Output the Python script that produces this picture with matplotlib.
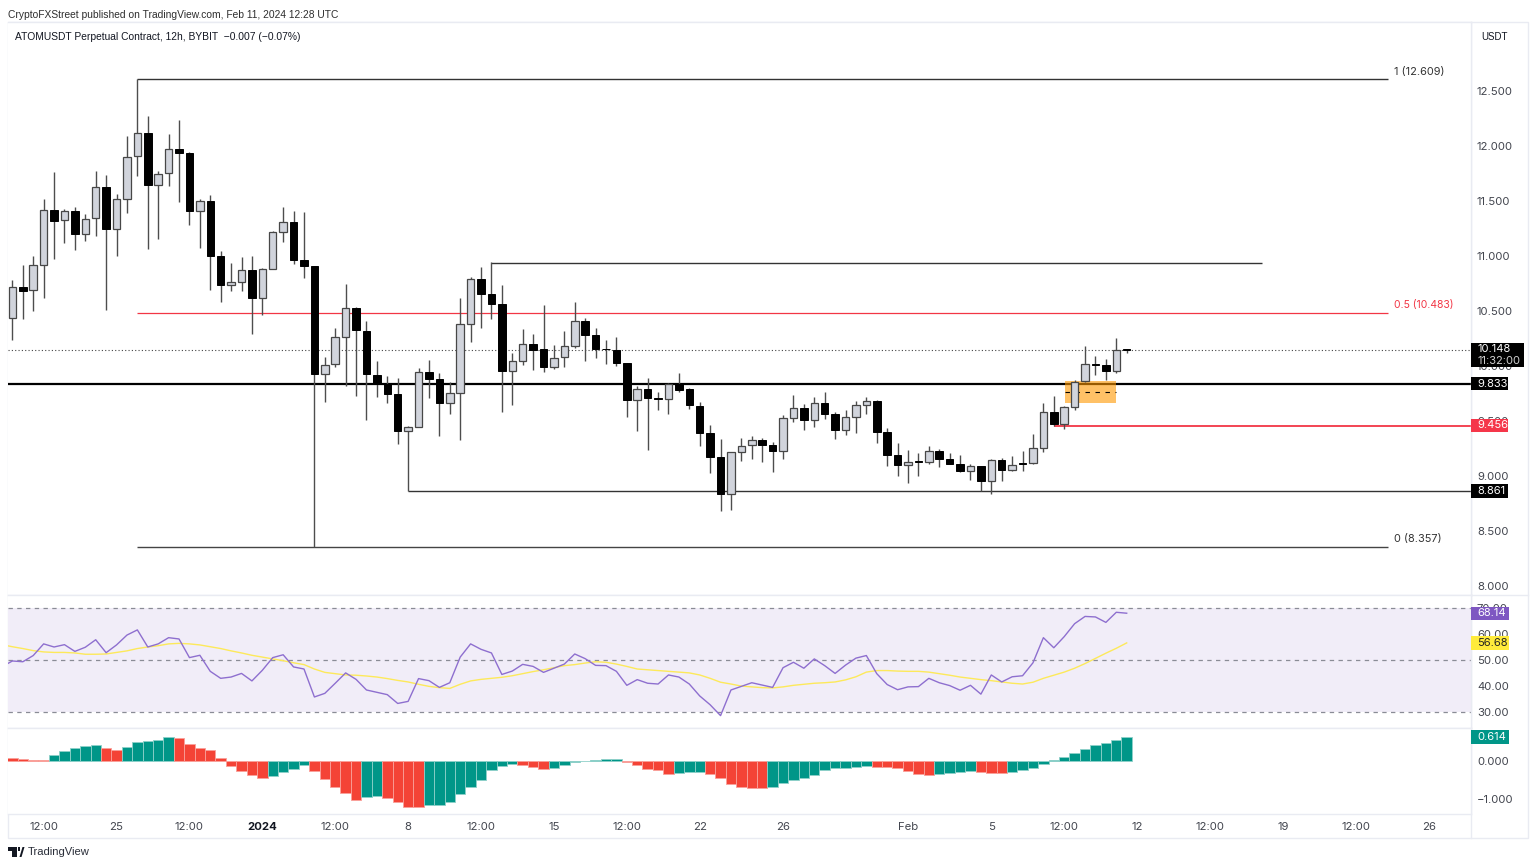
import numpy as np
import matplotlib
matplotlib.use('Agg')
import matplotlib.pyplot as plt
from matplotlib.patches import Rectangle, Polygon

plt.rcParams['font.family'] = ['Inter', 'DejaVu Sans']

W, H = 1536, 866

# 12h candles, left to right
opens = [10.435, 10.717, 10.687, 10.920, 11.420, 11.323, 11.411, 11.202, 11.341, 11.626,
         11.241, 11.517, 11.905, 12.114, 11.645, 11.751, 11.972, 11.938, 11.411, 11.499,
         10.996, 10.732, 10.763, 10.869, 10.617, 10.881, 11.220, 11.311, 10.966, 10.905,
         9.923, 10.017, 10.265, 10.529, 10.320, 9.920, 9.835, 9.744, 9.408, 9.447,
         9.944, 9.880, 9.662, 9.756, 10.383, 10.792, 10.653, 10.565, 9.959, 10.044,
         10.198, 10.150, 9.992, 10.080, 10.180, 10.408, 10.283, 10.159, 10.150, 10.026,
         9.695, 9.792, 9.711, 9.698, 9.833, 9.788, 9.639, 9.388, 9.173, 8.833,
         9.218, 9.279, 9.330, 9.279, 9.224, 9.530, 9.615, 9.509, 9.663, 9.560,
         9.418, 9.539, 9.648, 9.685, 9.403, 9.191, 9.100, 9.136, 9.130, 9.227,
         9.157, 9.112, 9.042, 9.088, 8.957, 9.148, 9.054, 9.115, 9.115, 9.257,
         9.585, 9.470, 9.627, 9.860, 10.015, 10.006, 9.957, 10.155]
highs = [10.778, 10.914, 11.002, 11.517, 11.760, 11.426, 11.441, 11.381, 11.775, 11.735,
         11.560, 12.090, 12.609, 12.275, 11.772, 12.108, 12.232, 11.948, 11.520, 11.554,
         11.045, 10.938, 10.990, 10.999, 10.887, 11.226, 11.441, 11.411, 11.399, 10.911,
         10.080, 10.347, 10.747, 10.535, 10.405, 10.047, 9.911, 9.895, 9.456, 9.983,
         10.059, 9.938, 9.856, 10.620, 10.808, 10.898, 10.941, 10.738, 10.114, 10.335,
         10.292, 10.556, 10.192, 10.320, 10.586, 10.435, 10.347, 10.238, 10.262, 10.030,
         9.814, 9.892, 9.762, 9.850, 9.936, 9.803, 9.676, 9.463, 9.333, 9.220,
         9.342, 9.360, 9.348, 9.306, 9.554, 9.739, 9.651, 9.718, 9.763, 9.579,
         9.597, 9.682, 9.718, 9.691, 9.433, 9.297, 9.236, 9.212, 9.276, 9.245,
         9.209, 9.188, 9.106, 9.094, 9.154, 9.166, 9.182, 9.227, 9.385, 9.660,
         9.730, 9.639, 9.876, 10.185, 10.088, 10.060, 10.251, 10.155]
lows = [10.238, 10.429, 10.499, 10.620, 10.975, 11.117, 11.057, 11.135, 11.181, 10.511,
        11.002, 11.387, 11.729, 11.066, 11.157, 11.635, 11.493, 11.284, 11.075, 10.693,
        10.581, 10.681, 10.684, 10.293, 10.466, 10.878, 11.123, 10.929, 10.802, 8.357,
        9.671, 9.989, 9.817, 9.726, 9.505, 9.714, 9.668, 9.292, 8.861, 9.444,
        9.705, 9.365, 9.562, 9.323, 10.214, 10.347, 10.429, 9.586, 9.650, 10.005,
        9.965, 9.950, 9.971, 9.989, 10.162, 10.050, 10.074, 10.020, 10.002, 9.535,
        9.408, 9.232, 9.602, 9.562, 9.766, 9.609, 9.276, 9.027, 8.679, 8.694,
        9.136, 9.157, 9.130, 9.036, 9.154, 9.494, 9.421, 9.448, 9.518, 9.333,
        9.376, 9.388, 9.563, 9.300, 9.091, 9.003, 8.939, 9.003, 9.106, 9.082,
        9.108, 9.040, 8.966, 8.861, 8.833, 8.957, 9.045, 9.045, 9.112, 9.218,
        9.456, 9.430, 9.600, 9.857, 9.921, 9.873, 9.939, 10.118]
closes = [10.717, 10.684, 10.917, 11.420, 11.320, 11.408, 11.202, 11.338, 11.626, 11.241,
          11.517, 11.899, 12.114, 11.645, 11.748, 11.972, 11.938, 11.411, 11.499, 10.996,
          10.732, 10.763, 10.869, 10.617, 10.881, 11.217, 11.311, 10.966, 10.911, 9.923,
          10.011, 10.262, 10.529, 10.323, 9.923, 9.835, 9.744, 9.408, 9.444, 9.941,
          9.880, 9.662, 9.756, 10.380, 10.792, 10.653, 10.565, 9.959, 10.044, 10.198,
          10.150, 9.992, 10.074, 10.180, 10.408, 10.283, 10.156, 10.153, 10.026, 9.695,
          9.792, 9.711, 9.702, 9.838, 9.782, 9.642, 9.388, 9.173, 8.833, 9.215,
          9.276, 9.330, 9.279, 9.224, 9.527, 9.615, 9.509, 9.660, 9.560, 9.418,
          9.533, 9.648, 9.685, 9.403, 9.191, 9.100, 9.130, 9.130, 9.227, 9.157,
          9.112, 9.042, 9.088, 8.957, 9.148, 9.054, 9.103, 9.106, 9.257, 9.585,
          9.470, 9.624, 9.857, 10.015, 10.009, 9.957, 10.142, 10.148]

# RSI and its average, first value sits one bar left of the first candle
rsi = [47.5, 49.7, 49.4, 51.8, 56.3, 55.1, 56.0, 53.4, 55.0, 57.9, 52.9,
       55.9, 59.7, 61.7, 55.1, 56.3, 58.7, 58.2, 51.0, 51.9, 45.7,
       43.0, 43.5, 44.9, 42.0, 46.1, 51.0, 52.1, 47.4, 46.6, 35.8,
       37.2, 41.1, 45.1, 42.6, 38.5, 37.6, 36.7, 33.3, 34.1, 42.9,
       42.1, 39.5, 41.3, 51.2, 56.3, 54.2, 52.8, 44.5, 45.8, 48.4,
       47.6, 45.3, 46.9, 48.5, 52.4, 50.6, 48.0, 47.9, 45.7, 40.3,
       42.5, 41.1, 40.8, 44.3, 43.5, 40.8, 36.2, 32.8, 28.6, 38.5,
       39.9, 41.3, 40.4, 39.5, 47.1, 49.2, 46.9, 50.5, 47.9, 44.9,
       48.1, 50.8, 51.8, 44.8, 40.6, 38.6, 39.7, 39.8, 43.0, 41.3,
       40.2, 38.4, 40.3, 36.9, 44.3, 41.6, 43.6, 44.0, 49.0, 58.7,
       54.8, 59.1, 64.1, 66.9, 66.7, 64.6, 68.5, 68.14]
rsi_ma = [56.0, 55.2, 54.5, 53.7, 53.2, 53.0, 53.0, 52.8, 52.3, 52.3, 52.4,
          53.0, 53.6, 54.5, 55.1, 55.6, 56.3, 56.5, 56.3, 55.9, 55.2,
          54.5, 53.6, 52.8, 51.9, 51.2, 50.5, 49.8, 49.0, 48.3, 46.6,
          45.3, 44.8, 44.3, 44.2, 43.9, 43.5, 42.9, 42.2, 41.6, 40.7,
          39.9, 39.4, 39.1, 40.7, 42.0, 42.6, 43.0, 43.4, 44.0, 44.8,
          45.6, 46.3, 47.1, 47.9, 48.3, 48.9, 49.4, 49.2, 48.5, 47.6,
          46.6, 46.3, 46.0, 45.7, 45.4, 45.1, 44.3, 43.0, 41.5, 40.8,
          40.0, 39.7, 39.4, 39.3, 39.7, 40.3, 40.7, 41.1, 41.3, 41.6,
          42.4, 43.6, 45.4, 46.0, 46.0, 45.8, 45.7, 45.7, 45.4, 44.8,
          44.2, 43.5, 43.0, 42.5, 42.1, 41.6, 41.1, 40.8, 41.5, 43.0,
          44.2, 45.4, 46.9, 48.7, 50.7, 52.7, 54.6, 56.68]

macd_hist = [0.087, 0.052, 0.035, 0.035, 0.148, 0.261, 0.330, 0.391, 0.426, 0.339,
             0.296, 0.365, 0.504, 0.522, 0.557, 0.626, 0.600, 0.435, 0.330, 0.278,
             0.087, -0.122, -0.261, -0.365, -0.435, -0.391, -0.296, -0.209, -0.104, -0.261,
             -0.470, -0.678, -0.835, -1.026, -0.948, -0.913, -0.965, -1.061, -1.191, -1.191,
             -1.157, -1.139, -1.070, -0.861, -0.678, -0.496, -0.243, -0.122, -0.078, -0.104,
             -0.148, -0.200, -0.183, -0.096, -0.035, -0.010, 0.017, 0.043, 0.052, -0.035,
             -0.113, -0.200, -0.243, -0.339, -0.322, -0.287, -0.278, -0.339, -0.443, -0.609,
             -0.678, -0.713, -0.713, -0.670, -0.583, -0.504, -0.435, -0.365, -0.235, -0.183,
             -0.174, -0.165, -0.139, -0.148, -0.157, -0.183, -0.252, -0.330, -0.365, -0.348,
             -0.313, -0.278, -0.252, -0.278, -0.304, -0.304, -0.287, -0.243, -0.183, -0.078,
             0.020, 0.096, 0.209, 0.322, 0.417, 0.478, 0.557, 0.614]
macd_red = [0, 1, 2, 3, 9, 10, 16, 17, 18, 19, 20, 21, 22, 23, 24, 29, 30, 31, 32, 33,
            36, 37, 38, 39, 49, 50, 51, 59, 60, 61, 62, 63, 67, 68, 69, 70, 71, 72,
            83, 84, 85, 86, 87, 88, 93, 94, 95]

time_pos = [3, 10, 17, 24, 31, 38, 45, 52, 59, 66, 74, 86, 94, 101, 108, 115, 122, 129, 136]
time_labels = ['12:00', '25', '12:00', '2024', '12:00', '8', '12:00', '15', '12:00', '22',
               '26', 'Feb', '5', '12:00', '12', '12:00', '19', '12:00', '26']

price_ticks = [8.0, 8.5, 9.0, 9.5, 10.0, 10.5, 11.0, 11.5, 12.0, 12.5]
rsi_ticks = [30, 40, 50, 60, 70]
macd_ticks = [-1, 0]

fib_high, fib_mid, fib_low = 12.609, 10.483, 8.357
swing_high, swing_low = 10.94, 8.861
level_black, level_red, last_price = 9.833, 9.456, 10.148
ob_top, ob_bottom = 9.861, 9.661

BLACK = '#000000'
GREY_TXT = '#43464f'
RED = '#F23645'
BORDER = '#e9ebf2'
HEAD_FONT = ['Liberation Sans', 'DejaVu Sans']

X0, DX = 12.4, 10.414
XMIN, XMAX = (8 - X0) / DX, (1470.5 - X0) / DX


def fx(px):
    return px / W


def fy(py):
    return 1 - py / H


def make_axes(top, bottom):
    ax = fig.add_axes([fx(8), fy(bottom), fx(1470.5) - fx(8), (bottom - top) / H])
    ax.set_xlim(XMIN, XMAX)
    ax.yaxis.tick_right()
    ax.tick_params(axis='y', length=0, pad=4.6, labelsize=8.2, labelcolor=GREY_TXT)
    ax.set_xticks([])
    for s in ax.spines.values():
        s.set_color(BORDER)
        s.set_linewidth(1)
    ax.spines['left'].set_visible(False)
    return ax


def tag(top, bottom, right, color, text, txt_color='white', y_txt=None):
    fig.add_artist(Rectangle((fx(1470.5), fy(bottom)), (right - 1470.5) / W, (bottom - top) / H,
                             transform=fig.transFigure, facecolor=color, edgecolor='none', zorder=10))
    y_txt = (top + bottom) / 2 if y_txt is None else y_txt
    fig.text(fx(1477), fy(y_txt), text, color=txt_color, fontsize=8.0, va='center', ha='left', zorder=11)


fig = plt.figure(figsize=(W / 100, H / 100), dpi=100, facecolor='white')

# outer frame
fig.add_artist(Rectangle((fx(8), fy(838)), (1528 - 8) / W, (838 - 22) / H, transform=fig.transFigure,
                         facecolor='none', edgecolor=BORDER, lw=1, zorder=-1))
fig.add_artist(plt.Line2D([fx(1470.5), fx(1470.5)], [fy(22), fy(838)], color=BORDER, lw=1, zorder=-1))
fig.add_artist(plt.Line2D([fx(1470.5), fx(1528)], [fy(595), fy(595)], color=BORDER, lw=1, zorder=-1))

# --- price pane
ax = make_axes(22, 595)
ax.set_ylim(12.5 - (595 - 91) / 110, 12.5 + (91 - 22) / 110)
ax.set_yticks(price_ticks)
ax.set_yticklabels(['%.3f' % p for p in price_ticks])

x = np.arange(len(opens))
o = np.array(opens)
c = np.array(closes)
up = c >= o

ax.hlines(last_price, XMIN, XMAX, color='#444444', lw=0.8, linestyles=(0, (1, 2)), zorder=1)
ax.hlines(level_black, XMIN, XMAX, color=BLACK, lw=1.6, zorder=2)
ax.add_patch(Rectangle((101.07, ob_bottom), 4.9, ob_top - ob_bottom, facecolor='#FF9800', alpha=0.6,
                       edgecolor='none', zorder=2.2))
ax.hlines((ob_top + ob_bottom) / 2, 101.07, 105.97, color=BLACK, lw=0.8, linestyles=(0, (4, 5)), zorder=2.3)

ax.vlines(x, lows, highs, color='#4d4d4d', lw=1, zorder=3)
ax.bar(x[up], (c - o)[up], bottom=o[up], width=0.72, facecolor='#D1D4DC', edgecolor='#474747', lw=0.9, zorder=4)
ax.bar(x[~up], (o - c)[~up], bottom=c[~up], width=0.72, facecolor=BLACK, edgecolor=BLACK, lw=0.7, zorder=4)

# fib and swing lines
ax.hlines(fib_high, 12, 132.1, color='#333333', lw=1, zorder=2)
ax.hlines(fib_mid, 12, 132.1, color=RED, lw=0.9, zorder=2)
ax.hlines(fib_low, 12, 132.1, color='#444444', lw=1, zorder=2)
ax.hlines(swing_high, 46, 120, color='#333333', lw=1, zorder=2)
ax.hlines(swing_low, 38, XMAX, color='#333333', lw=1, zorder=2)
ax.hlines(level_red, 100, XMAX, color=RED, lw=1.3, zorder=2)

ax.text(132.7, fib_high + 0.06, '1 (12.609)', fontsize=7.9, color='#333333', va='center')
ax.text(132.7, fib_mid + 0.07, '0.5 (10.483)', fontsize=7.5, color=RED, va='center')
ax.text(132.7, fib_low + 0.07, '0 (8.357)', fontsize=7.9, color='#333333', va='center')

# --- RSI pane
ax2 = make_axes(595, 727.7)
ax2.set_ylim(30 - (727.7 - 712) / 2.59, 30 + (712 - 595) / 2.59)
ax2.set_yticks(rsi_ticks)
ax2.set_yticklabels(['%.2f' % v for v in rsi_ticks])
ax2.axhspan(30, 70, facecolor='#7E57C2', alpha=0.1, edgecolor='none', zorder=0)
for lev in (30, 50, 70):
    ax2.axhline(lev, color='#8a8c96', lw=0.9, linestyle=(0, (3.5, 3.5)), zorder=1)
x_osc = np.arange(-1, len(opens))
ax2.plot(x_osc, rsi_ma, color='#FDE95A', lw=1, zorder=2)
ax2.plot(x_osc, rsi, color='#8E6FCF', lw=1, zorder=3)

# --- MACD pane
ax3 = make_axes(727.7, 814.3)
ax3.set_ylim(-(814.3 - 761) / 38.3, (761 - 727.7) / 38.3)
ax3.set_yticks(macd_ticks)
ax3.set_yticklabels(['\u22121.000', '0.000'])
colors = ['#F44336' if i in macd_red else '#009688' for i in x]
edges = ['#f9a09a' if i in macd_red else '#8fd0c9' for i in x]
ax3.bar(x, macd_hist, width=1.0, color=colors, edgecolor=edges, lw=0.6)
ax3.set_xticks(time_pos)
ax3.set_xticklabels(time_labels)
ax3.tick_params(axis='x', length=0, pad=5.5, labelsize=8.2, labelcolor=GREY_TXT)
ax3.get_xticklabels()[3].set_fontweight('bold')
ax3.get_xticklabels()[3].set_color('#131722')

# --- tags on the price scale
tag(343, 367, 1524, BLACK, '10.148', y_txt=349)
fig.text(fx(1477), fy(360.5), '11:32:00', color='#d0d0d0', fontsize=8.0, va='center', zorder=11)
tag(377, 390.5, 1508, BLACK, '9.833')
tag(418.7, 431.7, 1508, '#F5364A', '9.456')
tag(484, 497.5, 1508, BLACK, '8.861')
tag(606.7, 620, 1509, '#7E57C2', '68.14')
tag(635.7, 649.5, 1509, '#FFEB3B', '56.68', txt_color='#222222')
tag(730, 744, 1509, '#009688', '0.614')

fig.text(fx(1481), fy(36.5), 'USDT', color='#131722', fontsize=7.0, va='center', family=HEAD_FONT)
fig.text(fx(8), fy(15), 'CryptoFXStreet published on TradingView.com, Feb 11, 2024 12:28 UTC',
         color='#2e2e2e', fontsize=7.4, va='center', family=HEAD_FONT)
fig.text(fx(15), fy(37), 'ATOMUSDT Perpetual Contract, 12h, BYBIT  \u22120.007 (\u22120.07%)',
         color='#131722', fontsize=7.35, va='center', family=HEAD_FONT)

# TradingView mark
for pts in ([(8, 847), (17, 847), (17, 857), (12, 857), (12, 851), (8, 851)],
            [(19.5, 857), (22.5, 847), (24.5, 847), (21.5, 857)],
            [(18, 847), (20, 847), (20, 851), (18, 851)]):
    fig.add_artist(Polygon([(fx(a), fy(b)) for a, b in pts], transform=fig.transFigure,
                           facecolor='#131722', edgecolor='none'))
fig.text(fx(27.5), fy(852), 'TradingView', color='#2a2e39', fontsize=8.1, va='center', family=HEAD_FONT)

fig.savefig('out.png', dpi=100, facecolor='white')
